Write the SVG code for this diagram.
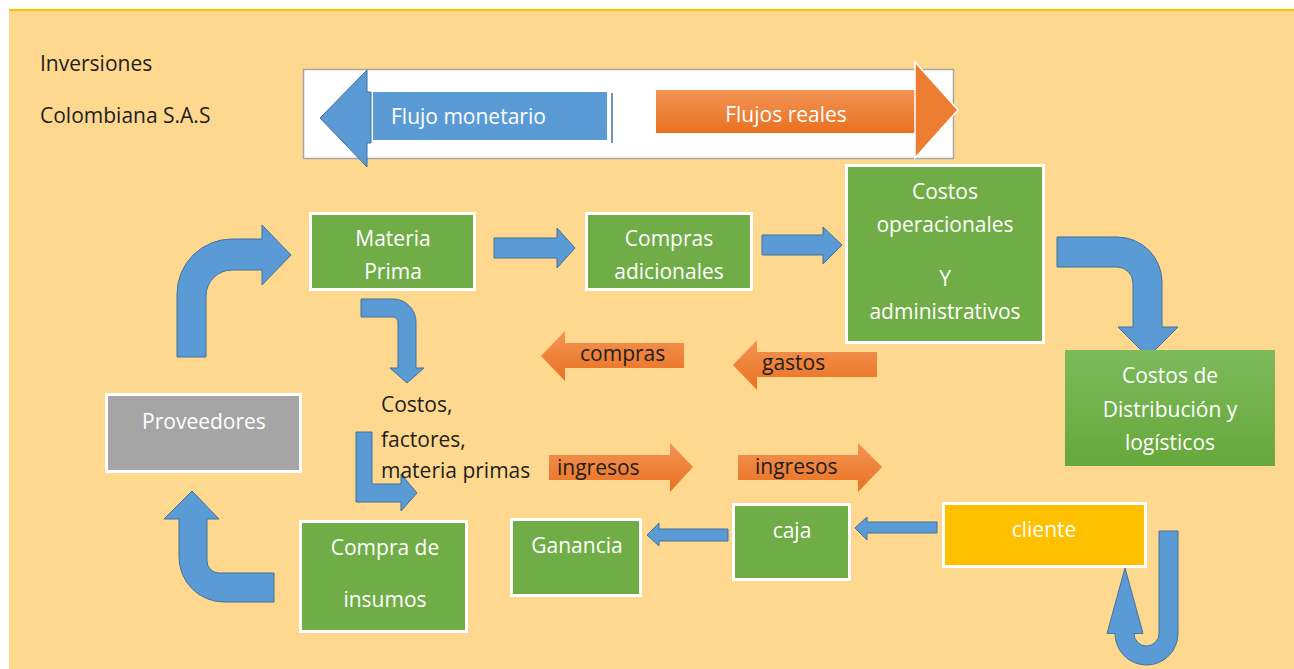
<svg xmlns="http://www.w3.org/2000/svg" width="1294" height="669" viewBox="0 0 1294 669">
  <defs>
    <linearGradient id="orangeGrad" x1="0" y1="0" x2="0" y2="1">
      <stop offset="0" stop-color="#F39455"/>
      <stop offset="1" stop-color="#E9711F"/>
    </linearGradient>
    <linearGradient id="greenGrad" x1="0" y1="0" x2="0" y2="1">
      <stop offset="0" stop-color="#7DBA5C"/>
      <stop offset="1" stop-color="#66A83B"/>
    </linearGradient>
    <style>
      .txt { font-family: "Open Sans", "Liberation Sans", sans-serif; font-size: 21px; }
      .white { fill: #FFFFFF; }
      .dark { fill: #1E1E1E; }
      .box { fill: #70AD47; stroke: #FFFFFF; stroke-width: 3; }
      .blue { fill: #5B9BD5; stroke: #41719C; stroke-width: 1; stroke-linejoin: miter; }
      .orange { fill: url(#orangeGrad); }
    </style>
  </defs>

  <!-- page background -->
  <rect x="0" y="0" width="1294" height="669" fill="#FFFFFF"/>
  <rect x="9" y="10" width="1285" height="659" fill="#FED88E"/>
  <line x1="9" y1="10" x2="1294" y2="10" stroke="#FFC000" stroke-width="2"/>

  <!-- company name -->
  <g id="title">
    <text class="txt dark" x="40" y="71" font-size="20">Inversiones</text>
    <text class="txt dark" x="40" y="123" font-size="20">Colombiana S.A.S</text>
  </g>

  <!-- legend -->
  <g id="legend">
    <rect x="303.5" y="69.5" width="650" height="89" fill="#FFFFFF" stroke="#A6A6A6" stroke-width="1.5"/>
    <path class="blue" d="M320,118 L367,70 L367,92 L371,92 L371,143 L367,143 L367,167 Z"/>
    <rect x="373" y="92" width="234" height="48" fill="#5B9BD5"/>
    <line x1="612" y1="93" x2="612" y2="143" stroke="#41719C" stroke-width="1.5"/>
    <text class="txt white" x="391" y="124">Flujo monetario</text>
    <rect x="656" y="90" width="261" height="43" fill="url(#orangeGrad)"/>
    <path d="M915,62 L958,110 L915,158 Z" fill="#ED7D31" stroke="#FFFFFF" stroke-width="1.5"/>
    <text class="txt white" x="786" y="122" text-anchor="middle">Flujos reales</text>
  </g>

  <!-- connectors -->
  <g id="connectors">
    <!-- Proveedores up to Materia Prima -->
    <path class="blue" d="M177,357 L177,294 A55,55 0 0 1 232,239 L262,239 L262,225 L291,255 L262,285 L262,270 L232,270 A26,26 0 0 0 206,296 L206,357 Z"/>
    <!-- Materia Prima to Compras adicionales -->
    <path class="blue" d="M494,238 L557,238 L557,228 L575,248 L557,268 L557,258 L494,258 Z"/>
    <!-- Compras adicionales to Costos operacionales -->
    <path class="blue" d="M762,235 L823,235 L823,227 L842,245 L823,264 L823,255 L762,255 Z"/>
    <!-- Costos operacionales down to Costos de Distribucion -->
    <path class="blue" d="M1057,237 L1117,237 A45,45 0 0 1 1162,282 L1162,327 L1178,327 L1148,357 L1118,327 L1133,327 L1133,283 A16,16 0 0 0 1117,267 L1057,267 Z"/>
    <!-- Materia Prima down to costos/factores -->
    <path class="blue" d="M361,299 L393,299 A23,23 0 0 1 416,322 L416,368 L424,368 L407,383 L390,368 L398,368 L398,322 A5,5 0 0 0 393,317 L361,317 Z"/>
    <!-- costos/factores down to Compra de insumos -->
    <path class="blue" d="M356,432 L372,432 L372,484 L401,484 L401,474 L417,493 L401,511 L401,502 L356,502 Z"/>
    <!-- Compra de insumos back up to Proveedores -->
    <path class="blue" d="M274,573 L274,602 L224,602 A45,45 0 0 1 179,557 L179,519 L164,519 L192,491 L219,519 L207,519 L207,561 A12,12 0 0 0 219,573 Z"/>
    <!-- cliente to caja -->
    <path class="blue" d="M937,522 L867,522 L867,517 L855,528 L867,540 L867,533 L937,533 Z"/>
    <!-- caja to Ganancia -->
    <path class="blue" d="M728,529 L659,529 L659,523 L647,535 L659,546 L659,541 L728,541 Z"/>
    <!-- loop under cliente -->
    <path class="blue" d="M1159,531 L1178,531 L1178,633.5 A31.5,31.5 0 0 1 1115,633.5 L1107,633.5 L1125,568 L1143,633.5 L1134,633.5 A12.5,12.5 0 0 0 1159,633.5 Z"/>

    <!-- money flows -->
    <path class="orange" d="M684,343 L565,343 L565,331 L541,356 L565,381 L565,368 L684,368 Z"/>
    <text class="txt dark" x="580" y="361">compras</text>
    <path class="orange" d="M877,352 L757,352 L757,340 L733,365 L757,390 L757,377 L877,377 Z"/>
    <text class="txt dark" x="762" y="370">gastos</text>
    <path class="orange" d="M549,455 L670,455 L670,443 L693,467 L670,492 L670,480 L549,480 Z"/>
    <text class="txt dark" x="557" y="475">ingresos</text>
    <path class="orange" d="M738,455 L858,455 L858,443 L882,467 L858,492 L858,480 L738,480 Z"/>
    <text class="txt dark" x="755" y="474">ingresos</text>
  </g>

  <!-- nodes -->
  <g id="materia-prima">
    <rect class="box" x="310.5" y="213.5" width="164" height="76"/>
    <text class="txt white" x="393" y="246" text-anchor="middle">Materia</text>
    <text class="txt white" x="393" y="279" text-anchor="middle">Prima</text>
  </g>

  <g id="compras-adicionales">
    <rect class="box" x="586.5" y="213.5" width="165" height="76"/>
    <text class="txt white" x="669" y="246" text-anchor="middle">Compras</text>
    <text class="txt white" x="669" y="279" text-anchor="middle">adicionales</text>
  </g>

  <g id="costos-operacionales">
    <rect class="box" x="846.5" y="165.5" width="197" height="177"/>
    <text class="txt white" x="945" y="199" text-anchor="middle">Costos</text>
    <text class="txt white" x="945" y="232" text-anchor="middle">operacionales</text>
    <text class="txt white" x="945" y="286" text-anchor="middle">Y</text>
    <text class="txt white" x="945" y="319" text-anchor="middle">administrativos</text>
  </g>

  <g id="costos-distribucion">
    <rect x="1065" y="350" width="210" height="116" fill="url(#greenGrad)"/>
    <text class="txt white" x="1170" y="383" text-anchor="middle">Costos de</text>
    <text class="txt white" x="1170" y="417" text-anchor="middle">Distribución y</text>
    <text class="txt white" x="1170" y="450" text-anchor="middle">logísticos</text>
  </g>

  <g id="costos-factores">
    <text class="txt dark" x="381" y="412">Costos,</text>
    <text class="txt dark" x="381" y="447">factores,</text>
    <text class="txt dark" x="381" y="478">materia primas</text>
  </g>

  <g id="proveedores">
    <rect class="box" x="106.5" y="394.5" width="194" height="77" fill="#A5A5A5" style="fill:#A5A5A5"/>
    <text class="txt white" x="204" y="429" text-anchor="middle">Proveedores</text>
  </g>

  <g id="compra-insumos">
    <rect class="box" x="300.5" y="521.5" width="166" height="110"/>
    <text class="txt white" x="385" y="555" text-anchor="middle">Compra de</text>
    <text class="txt white" x="385" y="607" text-anchor="middle">insumos</text>
  </g>

  <g id="ganancia">
    <rect class="box" x="511.5" y="519.5" width="129" height="76"/>
    <text class="txt white" x="577" y="553" text-anchor="middle">Ganancia</text>
  </g>

  <g id="caja">
    <rect class="box" x="733.5" y="504.5" width="116" height="75"/>
    <text class="txt white" x="792" y="538" text-anchor="middle">caja</text>
  </g>

  <g id="cliente">
    <rect class="box" x="943.5" y="503.5" width="202" height="63" style="fill:#FFC000"/>
    <text class="txt white" x="1044" y="537" text-anchor="middle">cliente</text>
  </g>
</svg>
